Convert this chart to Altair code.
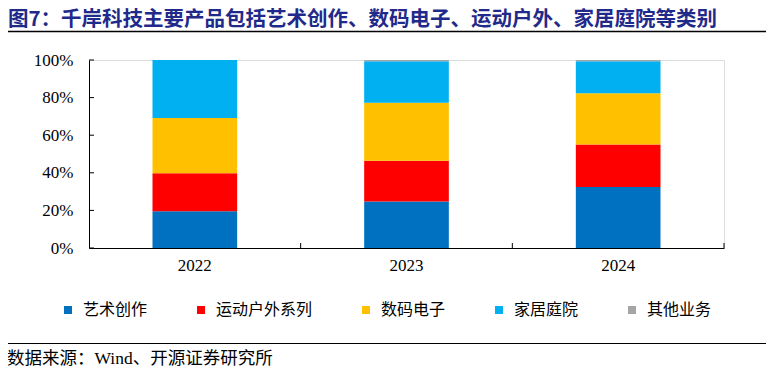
import altair as alt
import pandas as pd

years = ["2022", "2023", "2024"]
categories = ["艺术创作", "运动户外系列", "数码电子", "家居庭院", "其他业务"]
art = [19.5, 24.8, 32.4]
outdoor = [20.2, 21.6, 22.6]
digital = [29.4, 30.9, 27.3]
home = [30.9, 22.0, 17.0]
other = [0.0, 0.7, 0.7]
colors = ["#0070C0", "#FF0000", "#FFC000", "#00B0F0", "#A5A5A5"]
y_ticks = [0, 0.2, 0.4, 0.6, 0.8, 1.0]
title_text = ["图7：千岸科技主要产品包括艺术创作、数码电子、运动户外、家居庭院等类别"]
source_text = ["数据来源：Wind、开源证券研究所"]

series = [art, outdoor, digital, home, other]
rows = []
for i, yr in enumerate(years):
    for j, c in enumerate(categories):
        rows.append({"year": yr, "cat": c, "order": j, "value": series[j][i] / 100})
df = pd.DataFrame(rows)

W, H = 635, 188
SERIF = "Liberation Serif, Noto Sans CJK SC"
CJK = "Noto Sans CJK SC"

x_scale = alt.Scale(domain=years, paddingInner=0, paddingOuter=0)
y_scale = alt.Scale(domain=[0, 1], nice=False)

x_axis = alt.Axis(title=None, labelAngle=0, ticks=False, labelPadding=9,
                  labelFont=SERIF, labelFontSize=17, labelColor="black",
                  domainColor="black", domainWidth=1)
y_axis = alt.Axis(title=None, values=y_ticks, format=".0%", ticks=False, grid=False,
                  labelOverlap=False, labelFlush=False, labelBound=False,
                  labelPadding=16, labelFont=SERIF, labelFontSize=17,
                  labelColor="black", domainColor="black", domainWidth=1)

bars = alt.Chart(df).mark_bar(width=alt.RelativeBandSize(0.4)).encode(
    x=alt.X("year:N", scale=x_scale, sort=years, title=None, axis=x_axis),
    y=alt.Y("value:Q", stack="zero", scale=y_scale, title=None, axis=y_axis),
    color=alt.Color("cat:N", sort=categories,
                    scale=alt.Scale(domain=categories, range=colors),
                    legend=alt.Legend(orient="none", legendX=-29, legendY=242,
                                      direction="horizontal", title=None,
                                      symbolType="square", symbolSize=64,
                                      symbolStrokeWidth=0, labelFont=CJK,
                                      labelFontSize=16, labelColor="black",
                                      labelOffset=7, columnPadding=45)),
    order=alt.Order("order:Q"),
)

tick_df = pd.DataFrame({"value": y_ticks})
yticks = alt.Chart(tick_df).mark_rule(color="black", strokeWidth=1).encode(
    y=alt.Y("value:Q", scale=y_scale, title=None, axis=y_axis),
    x=alt.value(0), x2=alt.value(5),
)

xtick_df = pd.DataFrame({"year": years})
xticks = alt.Chart(xtick_df).mark_rule(color="black", strokeWidth=1).encode(
    x=alt.X("year:N", scale=x_scale, sort=years, title=None, bandPosition=1, axis=x_axis),
    y=alt.value(H), y2=alt.value(H - 5),
)

title_df = pd.DataFrame({"t": title_text})
title = alt.Chart(title_df).mark_text(
    align="left", baseline="middle", fontSize=20.5, fontWeight="bold",
    color="#1F2A8A", font=CJK,
).encode(x=alt.value(-81), y=alt.value(-40.5), text="t:N")

source_df = pd.DataFrame({"t": source_text})
source = alt.Chart(source_df).mark_text(
    align="left", baseline="middle", fontSize=17.5, color="black", font=SERIF,
).encode(x=alt.value(-82), y=alt.value(299), text="t:N")

top_line = alt.Chart(title_df).mark_rule(color="black", strokeWidth=1.5).encode(
    x=alt.value(-83), x2=alt.value(680), y=alt.value(-28.5)
)
bottom_line = alt.Chart(title_df).mark_rule(color="black", strokeWidth=1.2).encode(
    x=alt.value(-83), x2=alt.value(680), y=alt.value(283.5)
)

chart = alt.layer(bars, yticks, xticks, title, source, top_line, bottom_line).properties(
    width=W, height=H,
    autosize=alt.AutoSizeParams(type="none"),
    padding={"left": 81, "top": 52, "right": 42, "bottom": 124},
).configure_view(stroke=None).configure(background="white")

chart.save("out.html", embed_options={"renderer": "svg", "actions": False})
